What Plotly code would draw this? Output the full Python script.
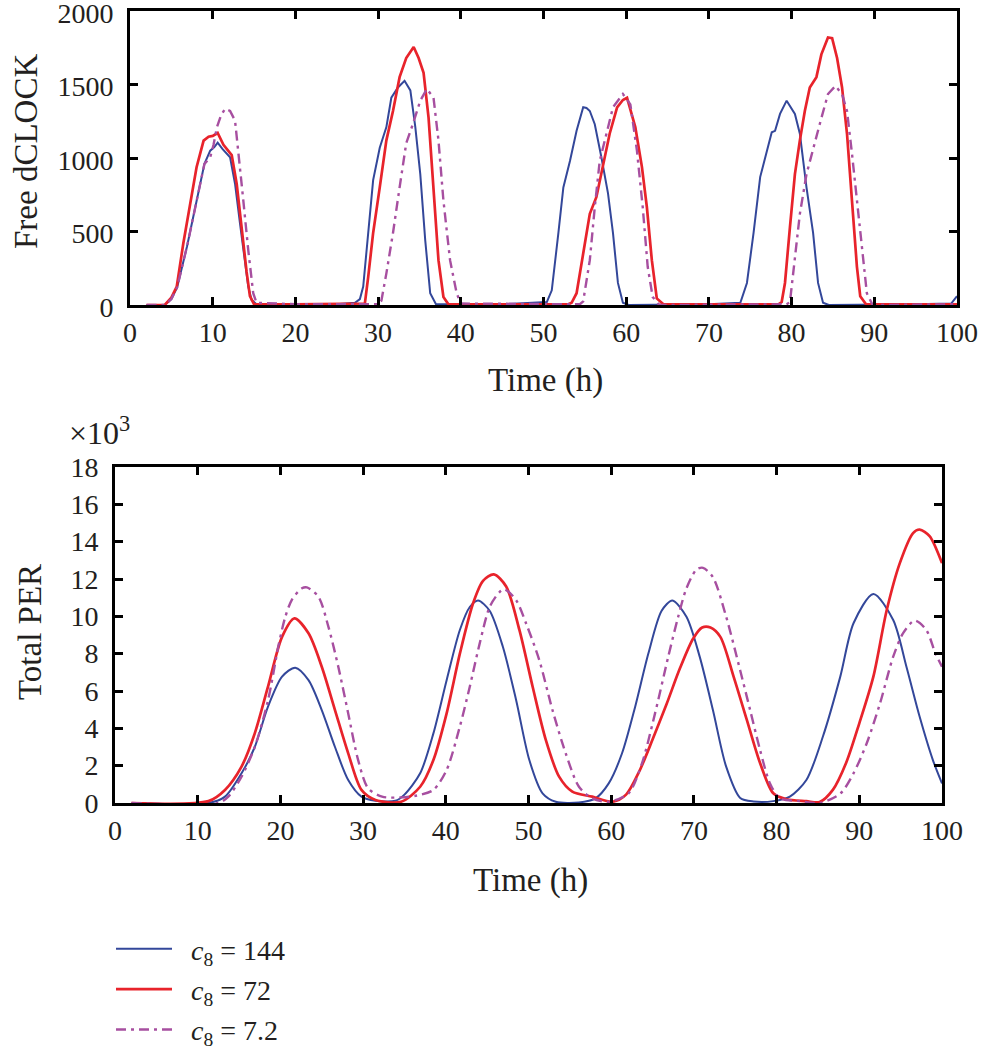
import plotly.graph_objects as go

# ---------------- data ----------------
series_names = ["\u2002<i>c</i><sub>8</sub> = 144", "\u2002<i>c</i><sub>8</sub> = 72", "\u2002<i>c</i><sub>8</sub> = 7.2"]

# Top panel: Free dCLOCK
top_t_144 = [2, 4.2, 5.0, 5.7, 6.9, 8.1, 9.0, 9.7, 10.2, 10.6, 11.2, 12.1, 12.7, 13.3, 13.9, 14.3, 14.7, 15.3, 20, 25,
             27.2, 27.8, 28.2, 29.0, 29.4, 30.2, 31.0, 31.6, 32.4, 33.2, 33.9, 34.5, 35.1, 35.7, 36.3, 37.0, 45,
             50.4, 51.0, 51.8, 52.4, 53.2, 54.0, 54.8, 55.2, 55.6, 56.2, 57.0, 57.8, 58.4, 59.0, 59.6, 60.3, 70,
             73.8, 74.6, 75.4, 76.2, 77.0, 77.6, 78.0, 78.6, 79.4, 80.4, 81.0, 81.8, 82.6, 83.2, 83.8, 84.5, 95, 99.3, 100]
top_v_144 = [0, 0, 40, 120, 400, 720, 960, 1050, 1075, 1105, 1060, 1005, 825, 555, 305, 125, 35, 5, 5, 5,
             15, 40, 125, 620, 850, 1070, 1210, 1410, 1480, 1525, 1460, 1210, 890, 440, 80, 5, 5,
             20, 100, 490, 800, 980, 1185, 1345, 1340, 1320, 1230, 1005, 760, 490, 150, 15, 0, 5,
             15, 150, 490, 870, 1050, 1175, 1185, 1300, 1390, 1300, 1165, 800, 490, 150, 15, 0, 5, 10, 60]

top_t_72 = [2, 4.2, 5.0, 5.65, 6.45, 7.25, 8.05, 8.9, 9.5, 10.0, 10.6, 11.3, 12.3, 12.9, 13.5, 14.1, 14.5, 15.0, 20,
            28.0, 28.4, 28.8, 29.4, 30.2, 31.0, 31.8, 32.6, 33.4, 34.3, 34.9, 35.5, 36.1, 36.7, 37.3, 37.9, 38.5, 45,
            53.0, 53.4, 54.0, 54.8, 55.6, 56.4, 57.2, 58.0, 58.9, 59.6, 60.1, 61.1, 61.9, 62.5, 63.1, 63.7, 64.5, 70,
            78.4, 78.8, 79.2, 79.8, 80.4, 81.0, 81.6, 82.2, 83.0, 83.6, 84.4, 84.9, 85.5, 86.1, 86.7, 87.3, 87.9, 88.3, 89.0, 100]
top_v_72 = [0, 0, 50, 125, 420, 690, 937, 1118, 1145, 1150, 1170, 1090, 1020, 825, 510, 225, 60, 5, 5,
            5, 10, 190, 490, 800, 1120, 1320, 1550, 1680, 1755, 1680, 1580, 1275, 800, 305, 55, 5, 5,
            5, 15, 80, 350, 620, 735, 940, 1165, 1345, 1395, 1410, 1210, 940, 665, 305, 45, 5, 5,
            5, 20, 150, 530, 890, 1120, 1320, 1480, 1550, 1705, 1820, 1815, 1680, 1480, 1165, 710, 260, 60, 5, 5]

top_t_7_2 = [2, 4.2, 5.0, 5.7, 6.9, 8.1, 9.0, 9.7, 10.1, 10.5, 11.0, 11.5, 12.1, 12.7, 13.1, 13.7, 14.3, 14.9, 15.3, 20,
             30.0, 30.4, 31.0, 31.8, 32.6, 33.4, 34.2, 35.1, 35.9, 36.7, 37.3, 37.9, 38.7, 39.5, 40.0, 50,
             54.4, 54.8, 55.6, 56.2, 56.8, 57.7, 58.4, 59.6, 60.5, 61.3, 62.0, 62.6, 63.2, 64.0, 75,
             79.4, 79.8, 80.4, 81.0, 81.8, 82.6, 83.4, 84.4, 85.3, 86.1, 86.7, 87.3, 87.9, 88.5, 89.1, 89.8, 100]
top_v_7_2 = [0, 0, 40, 120, 400, 720, 960, 1005, 1090, 1207, 1290, 1335, 1320, 1255, 1050, 712, 373, 80, 15, 5,
             5, 30, 215, 490, 800, 1100, 1230, 1390, 1470, 1410, 1120, 710, 305, 80, 10, 5,
             5, 25, 305, 665, 980, 1185, 1345, 1435, 1365, 1050, 665, 260, 55, 0, 5,
             5, 20, 305, 620, 890, 1070, 1230, 1435, 1490, 1435, 1320, 1030, 710, 370, 80, 0, 5]

# Bottom panel: Total PER (x10^3)
bot_t_144 = [2, 11.3, 13.3, 15.3, 16.9, 18.5, 20.2, 21.8, 23.4, 25.0, 26.6, 28.2, 29.8, 31.5, 33.9, 35.0, 36.9, 38.5,
             40.1, 41.7, 42.9, 43.9, 45.3, 46.9, 48.5, 50.1, 51.7, 53.3, 56.1, 58.1, 59.7, 61.3, 62.9, 64.5, 66.1,
             67.4, 69.1, 70.7, 72.3, 73.9, 75.6, 77.2, 79.6, 81.6, 83.6, 85.6, 87.7, 89.3, 91.7, 94.1, 95.7, 97.3, 98.9, 100]
bot_v_144 = [0, 0, 0.34, 1.59, 3.0, 5.16, 6.77, 7.25, 6.58, 4.98, 3.0, 1.23, 0.34, 0.12, 0.12, 0.45, 1.59, 3.73,
             6.58, 9.27, 10.5, 10.85, 10.3, 8.37, 5.52, 2.3, 0.52, 0.07, 0.03, 0.25, 1.05, 2.65, 5.16, 8.02, 10.3,
             10.85, 9.98, 7.84, 4.98, 1.95, 0.27, 0.08, 0.1, 0.34, 1.23, 3.56, 6.77, 9.63, 11.2, 9.8, 7.3, 4.62, 2.3, 1.05]

bot_t_72 = [2, 11.3, 13.3, 15.3, 16.9, 18.5, 20.2, 21.7, 23.4, 25.0, 26.6, 28.2, 29.8, 31.5, 34.6, 36.9, 38.5, 40.1,
            41.7, 43.3, 44.5, 45.8, 47.3, 48.9, 50.5, 52.1, 53.7, 55.3, 57.7, 60.2, 61.8, 63.4, 65.0, 66.7, 68.3,
            69.9, 71.0, 72.0, 73.2, 74.8, 76.4, 78.0, 79.6, 81.2, 83.6, 85.2, 86.8, 88.4, 90.0, 91.7, 93.3, 94.9,
            96.5, 97.3, 98.5, 100]
bot_v_72 = [0, 0.1, 0.7, 1.95, 3.73, 6.23, 8.9, 9.89, 9.09, 7.3, 4.98, 2.66, 0.7, 0.16, 0.07, 0.87, 2.3, 4.8,
            8.0, 10.7, 11.9, 12.25, 11.6, 9.27, 6.23, 3.37, 1.41, 0.61, 0.34, 0.07, 0.45, 1.7, 3.4, 5.3, 7.2,
            8.8, 9.4, 9.4, 8.9, 6.77, 4.45, 2.14, 0.52, 0.2, 0.1, 0.05, 0.7, 2.14, 4.27, 6.77, 10.3, 12.85,
            14.46, 14.65, 14.3, 12.85]

bot_t_7_2 = [2, 12.5, 13.7, 15.3, 16.9, 18.5, 19.8, 20.6, 21.4, 22.6, 23.2, 24.6, 25.8, 27.0, 28.2, 29.4, 30.6, 32.3,
             34.7, 36.5, 38.5, 40.1, 41.7, 42.9, 44.1, 45.3, 46.5, 47.1, 48.5, 49.7, 51.3, 52.9, 54.5, 56.1, 57.7,
             59.7, 62.1, 63.7, 65.3, 66.9, 68.1, 69.1, 70.3, 71.1, 72.3, 73.9, 75.6, 76.8, 78.0, 79.2, 80.4, 82.8,
             85.2, 87.7, 89.3, 90.9, 92.5, 94.1, 95.3, 96.7, 98.1, 99.2, 100]
bot_v_7_2 = [0, 0, 0.34, 1.41, 3.0, 5.5, 8.5, 9.98, 10.9, 11.5, 11.55, 11.05, 9.45, 7.3, 4.8, 2.3, 0.79, 0.34,
             0.3, 0.4, 0.7, 1.77, 4.1, 6.23, 8.55, 10.5, 11.3, 11.45, 10.87, 9.63, 7.66, 4.98, 2.66, 0.87, 0.25,
             0.07, 0.52, 2.1, 4.8, 7.84, 9.98, 11.5, 12.5, 12.6, 12.1, 9.98, 7.1, 4.98, 2.84, 1.05, 0.25, 0.1,
             0.0, 0.5, 1.59, 3.2, 5.33, 7.84, 9.1, 9.77, 9.27, 8.02, 7.3]

x_ticks = [0, 10, 20, 30, 40, 50, 60, 70, 80, 90, 100]
top_y_ticks = [0, 500, 1000, 1500, 2000]
bot_y_ticks = [0, 2, 4, 6, 8, 10, 12, 14, 16, 18]

# ---------------- styling ----------------
W, H = 981, 1049
FONT = "Liberation Serif, serif"
INK = "#231f20"
colors = ["#33479a", "#e8232b", "#a74fa0"]
widths = [2.0, 2.7, 2.4]
dashes = ["solid", "solid", "10px,5px,3px,5px"]

top_data = [(top_t_144, top_v_144), (top_t_72, top_v_72), (top_t_7_2, top_v_7_2)]
bot_data = [(bot_t_144, bot_v_144), (bot_t_72, bot_v_72), (bot_t_7_2, bot_v_7_2)]

fig = go.Figure()
for i, (tx, ty) in enumerate(top_data):
    assert len(tx) == len(ty)
    fig.add_trace(go.Scatter(x=tx, y=ty, mode="lines", name=series_names[i], legendgroup=f"g{i}",
                             line=dict(color=colors[i], width=widths[i], dash=dashes[i]),
                             xaxis="x", yaxis="y", showlegend=True))
for i, (tx, ty) in enumerate(bot_data):
    assert len(tx) == len(ty)
    fig.add_trace(go.Scatter(x=tx, y=ty, mode="lines", name=series_names[i], legendgroup=f"g{i}",
                             line=dict(color=colors[i], width=widths[i], dash=dashes[i], shape="spline",
                                       smoothing=0.8),
                             xaxis="x2", yaxis="y2", showlegend=False))

def px_x(p):
    return p / W

def px_y(p):
    return 1 - p / H

axis_common = dict(showline=True, linewidth=3, linecolor="black", mirror="ticks", ticks="inside",
                   ticklen=8, tickwidth=3, tickcolor="black", showgrid=False, zeroline=False,
                   automargin=False, ticklabeloverflow="allow",
                   tickfont=dict(family=FONT, size=28, color=INK))

fig.update_layout(
    width=W, height=H, margin=dict(l=0, r=0, t=0, b=0, autoexpand=False),
    paper_bgcolor="white", plot_bgcolor="white",
    font=dict(family=FONT, color=INK),
    xaxis=dict(domain=[px_x(130), px_x(957)], range=[0, 100], tickvals=x_ticks, anchor="y",
               ticklabelstandoff=0, **axis_common),
    yaxis=dict(domain=[px_y(305), px_y(11)], range=[0, 2000], tickvals=top_y_ticks, anchor="x",
               ticklabelstandoff=8, ticklabelshift=2, **axis_common),
    xaxis2=dict(domain=[px_x(115), px_x(942)], range=[0, 100], tickvals=x_ticks, anchor="y2",
                ticklabelstandoff=0, **axis_common),
    yaxis2=dict(domain=[px_y(803), px_y(467)], range=[0, 18], tickvals=bot_y_ticks, anchor="x2",
                ticklabelstandoff=8, **axis_common),
    showlegend=True,
    legend=dict(x=px_x(111), y=px_y(924), xanchor="left", yanchor="top", bgcolor="rgba(0,0,0,0)",
                font=dict(family=FONT, size=28, color=INK), itemwidth=56, tracegroupgap=1,
                traceorder="grouped"),
)

ann_font = dict(family=FONT, size=33, color=INK)
fig.add_annotation(text="Time (h)", x=px_x(545), y=px_y(380), xref="paper", yref="paper",
                   showarrow=False, xanchor="center", yanchor="middle", font=ann_font)
fig.add_annotation(text="Free dCLOCK", x=px_x(26), y=px_y(152), xref="paper", yref="paper",
                   showarrow=False, xanchor="center", yanchor="middle", textangle=-90, font=ann_font)
fig.add_annotation(text="Time (h)", x=px_x(530), y=px_y(880), xref="paper", yref="paper",
                   showarrow=False, xanchor="center", yanchor="middle", font=ann_font)
fig.add_annotation(text="Total PER", x=px_x(30), y=px_y(632), xref="paper", yref="paper",
                   showarrow=False, xanchor="center", yanchor="middle", textangle=-90, font=ann_font)
fig.add_annotation(text="×10<sup>3</sup>", x=px_x(67), y=px_y(431), xref="paper", yref="paper",
                   showarrow=False, xanchor="left", yanchor="middle", font=dict(family=FONT, size=32, color=INK))

fig.write_html("out.html", config={"displayModeBar": False},
               post_script="document.body.style.margin='0px';document.body.style.overflow='hidden';")
